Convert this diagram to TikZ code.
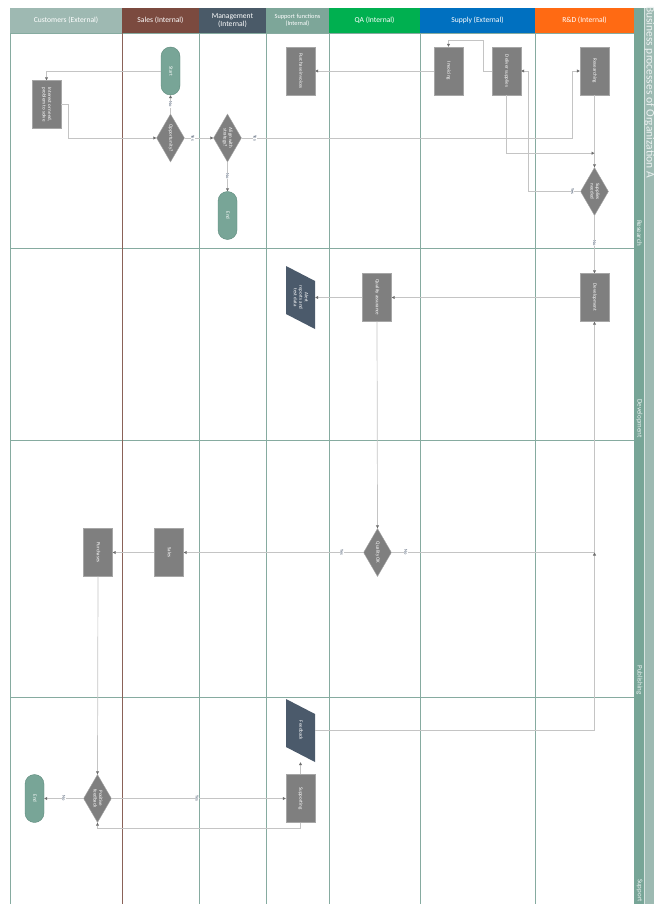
\documentclass[tikz,border=0pt]{standalone}
\usepackage{fontspec}
\setmainfont{Carlito}
\usepackage{graphicx}
\usetikzlibrary{shapes.geometric,arrows.meta}

\definecolor{boxgray}{HTML}{7F7F7F}
\definecolor{boxline}{HTML}{A6A6A6}
\definecolor{termteal}{HTML}{78A597}
\definecolor{termline}{HTML}{5E8A7C}
\definecolor{dataslate}{HTML}{4B5A6B}
\definecolor{flowgray}{HTML}{C4C4C4}
\definecolor{tipgray}{HTML}{6E6E6E}
\definecolor{lblblue}{HTML}{44546A}
\definecolor{laneteal}{HTML}{86ABA0}
\definecolor{lanebrown}{HTML}{8A6258}
\definecolor{bandteal}{HTML}{77A597}
\definecolor{titleteal}{HTML}{9DBAB2}
\definecolor{hdcust}{HTML}{9EB9B2}
\definecolor{hdsales}{HTML}{7B4A3F}
\definecolor{hdmgmt}{HTML}{4A5A68}
\definecolor{hdsupp}{HTML}{7DA699}
\definecolor{hdqa}{HTML}{00B050}
\definecolor{hdsupply}{HTML}{0070C0}
\definecolor{hdrd}{HTML}{FF6A13}

\newcommand{\vtext}[1]{\rotatebox{-90}{\begin{tabular}{@{}c@{}}#1\end{tabular}}}

\begin{document}
\begin{tikzpicture}[
  x=1pt, y=-1pt,
  lanehead/.style={fill=#1, draw=none, minimum height=25pt, inner sep=1pt,
                   text=white, align=center, font=\fontsize{7.6}{8.2}\selectfont},
  box/.style={draw=boxline, fill=boxgray, minimum width=29pt, minimum height=48pt,
              inner sep=1pt, text=white, font=\fontsize{5}{5.6}\selectfont},
  term/.style={draw=termline, fill=termteal, rounded corners=9.5pt, minimum width=19pt,
               minimum height=48pt, inner sep=1pt, text=white, font=\fontsize{5}{5.6}\selectfont},
  dec/.style={diamond, aspect=0.58, draw=boxline, fill=boxgray, minimum width=28pt,
              minimum height=48pt, inner sep=0pt, text=white, font=\fontsize{5}{5.6}\selectfont},
  data/.style={fill=white, minimum width=29pt, minimum height=63pt, inner sep=0pt,
               text=white, font=\fontsize{5}{5.6}\selectfont,
               path picture={\fill[dataslate] (path picture bounding box.north west)
                 -- ([yshift=-15pt]path picture bounding box.north east)
                 -- (path picture bounding box.south east)
                 -- ([yshift=15pt]path picture bounding box.south west) -- cycle;}},
  flow/.style={draw=flowgray, line width=0.7pt, -{Triangle[length=3pt,width=3pt,color=tipgray]}},
  yn/.style={fill=white, inner sep=0.4pt, text=lblblue, rotate=-90,
             font=\fontsize{4.5}{5}\selectfont},
  lane/.style={draw=laneteal, line width=0.8pt},
  phase/.style={rotate=-90, anchor=east, text=white!88!bandteal, inner sep=1pt,
                font=\fontsize{7}{8}\selectfont},
]
\useasboundingbox (0,0) rectangle (654,904);

%% Swimlane grid
\draw[lane] (10,8) -- (10,904);
\draw[lane] (199,33) -- (199,904);
\draw[lane] (266,33) -- (266,904);
\draw[lane] (329,33) -- (329,904);
\draw[lane] (420,33) -- (420,904);
\draw[lane] (535,33) -- (535,904);
\draw[lane] (10,33) -- (634,33);
\draw[lane] (10,248) -- (634,248);
\draw[lane] (10,440) -- (634,440);
\draw[lane] (10,697) -- (634,697);
\draw[draw=lanebrown, line width=1pt] (122,33) -- (122,904);

%% Lane headers
\node[lanehead=hdcust,   minimum width=112pt] (hcust)   at (66,20.5)    {Customers (External)};
\node[lanehead=hdsales,  minimum width=77pt]  (hsales)  at (160.5,20.5) {Sales (Internal)};
\node[lanehead=hdmgmt,   minimum width=67pt]  (hmgmt)   at (232.5,20.5) {Management\\(Internal)};
\node[lanehead=hdsupp,   minimum width=63pt, font=\fontsize{6.3}{7}\selectfont]
                                              (hsupp)   at (297.5,20.5) {Support functions\\(Internal)};
\node[lanehead=hdqa,     minimum width=91pt]  (hqa)     at (374.5,20.5) {QA (Internal)};
\node[lanehead=hdsupply, minimum width=115pt] (hsupply) at (477.5,20.5) {Supply (External)};
\node[lanehead=hdrd,     minimum width=99pt]  (hrd)     at (584.5,20.5) {R\&D (Internal)};

%% Phase band and title
\fill[bandteal] (634,8) rectangle (644,904);
\fill[titleteal] (644,8) rectangle (654,904);
\draw[white!70!bandteal, line width=0.4pt] (644,8) -- (644,904);
\node[rotate=-90, anchor=base west, text=white!80!titleteal, inner sep=0pt,
      font=\fontsize{11.5}{13}\selectfont] (title) at (646.5,6) {Business processes of Organization A};
\node[phase] (phres) at (639.5,247) {Research};
\node[phase] (phdev) at (639.5,439) {Development};
\node[phase] (phpub) at (639.5,696) {Publishing};
\node[phase] (phsup) at (639.5,903) {Support};

%% Research phase
\node[term] (start)     at (170.5,71)  {\vtext{Start}};
\node[box]  (interest)  at (46.5,104.5) {\vtext{Interest or need,\\problem to solve}};
\node[dec]  (opp)       at (170.5,138) {\vtext{Opportunity?}};
\node[dec]  (align)     at (227.5,138) {\vtext{Align with\\strategy?}};
\node[term] (endA)      at (227.5,215.5) {\vtext{End}};
\node[box]  (purchinv)  at (300.5,71)  {\vtext{Purchase invoices}};
\node[box]  (invoicing) at (448.5,71)  {\vtext{Invoicing}};
\node[box]  (deliver)   at (506.5,71)  {\vtext{Deliver supplies}};
\node[box]  (research)  at (594.5,71)  {\vtext{Researching}};
\node[dec]  (supneed)   at (594.5,191.5) {\vtext{Supplies\\needed}};

%% Development phase
\node[box]  (develop)   at (594.5,297.5) {\vtext{Development}};
\node[box]  (qa)        at (377,297.5)   {\vtext{Quality assurance}};
\node[data] (alert)     at (300.5,297.5) {\vtext{Alert\\reports and\\test data}};

%% Publishing phase
\node[dec]  (qok)       at (377.5,552.5) {\vtext{Quality OK}};
\node[box]  (salesbox)  at (169,552.5)   {\vtext{Sales}};
\node[box]  (purchases) at (98,552.5)    {\vtext{Purchases}};

%% Support phase
\node[data] (feedback)   at (300.5,730.5) {\vtext{Feedback}};
\node[box]  (supporting) at (300.5,798.5) {\vtext{Supporting}};
\node[dec]  (posfb)      at (97.5,798.5)  {\vtext{Positive\\feedback}};
\node[term] (endB)       at (34.5,798.5)  {\vtext{End}};

%% Junctions
\coordinate (jsup) at ([yshift=-58pt]research.south);
\coordinate (jdev) at (develop.south |- qok.east);

%% Arrows
\draw[flow] (start.west) -| (interest.north);
\draw[flow] (interest.east) -- ++(7,0) |- (opp.west);
\draw[flow] (opp.north) -- node[yn]{No} (start.south);
\draw[flow] (opp.east) -- node[yn,pos=0.28]{Yes} (align.west);
\draw[flow] (align.south) -- node[yn,pos=0.47]{No} (endA.north);
\draw[flow] (align.east) -| node[yn,pos=0.02]{Yes} ([xshift=-7pt]research.west) -- (research.west);
\draw[flow] (research.south) -- (supneed.north);
\draw[flow] (deliver.south) |- (jsup);
\draw[flow] (supneed.west) -- node[yn,pos=0.15]{Yes} ++(-52,0) |- (deliver.east);
\draw[flow] (deliver.west) -- ++(-8,0) |- ([yshift=6pt]invoicing.north) -- (invoicing.north);
\draw[flow] (invoicing.west) -- (purchinv.east);
\draw[flow] (supneed.south) -- node[yn,pos=0.48]{No} (develop.north);
\draw[flow] (develop.west) -- (qa.east);
\draw[flow] (qa.west) -- (alert.east);
\draw[flow] (qa.south) -- (qok.north);
\draw[flow] (qok.west) -- node[yn,pos=0.12]{Yes} (salesbox.east);
\draw[flow] (qok.east) -| node[yn,pos=0.035]{No} (develop.south);
\draw[flow] (salesbox.west) -- (purchases.east);
\draw[flow] (purchases.south) -- (posfb.north);
\draw[flow] (posfb.west) -- node[yn,pos=0.5]{No} (endB.east);
\draw[flow] (posfb.east) -- node[yn,pos=0.49]{Yes} (supporting.west);
\draw[flow] (supporting.north) -- (feedback.south);
\draw[flow] (supporting.south) -- ++(0,6) -| (posfb.south);
\draw[flow] (feedback.east) -| (jdev);

\end{tikzpicture}
\end{document}
